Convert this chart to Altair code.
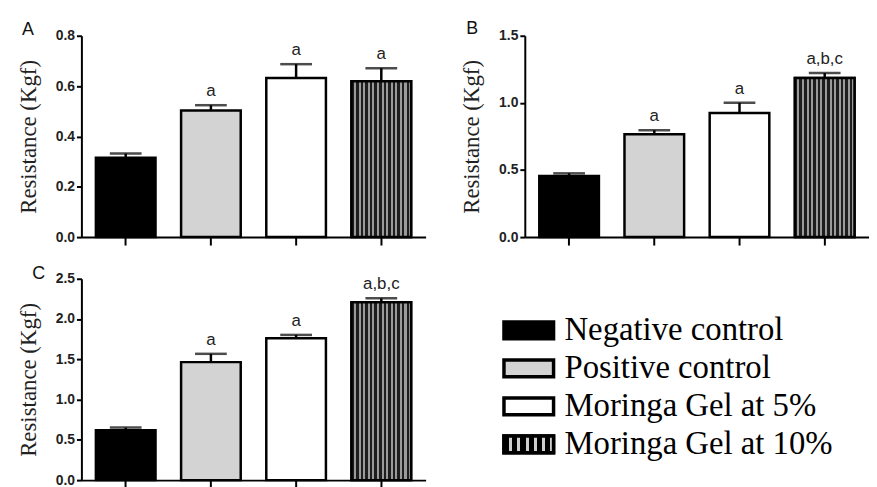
import altair as alt
import pandas as pd

groups = ["Negative control", "Positive control", "Moringa Gel at 5%", "Moringa Gel at 10%"]
fills = ["#000000", "#d3d3d3", "#ffffff", "#333333"]

a_mean = [0.315, 0.503, 0.632, 0.619]
a_err = [0.017, 0.021, 0.055, 0.052]
a_sig = ["", "a", "a", "a"]

b_mean = [0.456, 0.766, 0.924, 1.185]
b_err = [0.019, 0.030, 0.076, 0.037]
b_sig = ["", "a", "a", "a,b,c"]

c_mean = [0.619, 1.465, 1.762, 2.208]
c_err = [0.033, 0.103, 0.041, 0.049]
c_sig = ["", "a", "a", "a,b,c"]

a_ticks = [0.0, 0.2, 0.4, 0.6, 0.8]
b_ticks = [0.0, 0.5, 1.0, 1.5]
c_ticks = [0.0, 0.5, 1.0, 1.5, 2.0, 2.5]


def stripes(n, dark, light, frac):
    stops = []
    for i in range(n):
        a = i / n
        b = (i + frac) / n
        c = (i + 1) / n
        stops += [
            {"color": dark, "offset": a},
            {"color": dark, "offset": b},
            {"color": light, "offset": b},
            {"color": light, "offset": c},
        ]
    return {"gradient": "linear", "x1": 0, "x2": 1, "y1": 0, "y2": 0, "stops": stops}


bar_hatch = stripes(13, "#1e1e1e", "#9a9a9a", 0.55)
leg_hatch = stripes(6, "#000000", "#cfcfcf", 0.62)

W, H = 347, 203


def panel(mean, err, sig, letter, ymax, ticks, lx, ly):
    df = pd.DataFrame({"group": groups, "mean": mean, "err": err, "sig": sig})
    base = alt.Chart(df).transform_calculate(top="datum.mean + datum.err")
    x = alt.X(
        "group:N",
        sort=groups,
        scale=alt.Scale(paddingInner=0.3, paddingOuter=0.17),
        axis=alt.Axis(labels=False, title=None, tickSize=8, tickWidth=2,
                      domainWidth=2, domainColor="black", tickColor="black", grid=False),
    )
    yaxis = alt.Axis(values=ticks, format=".1f", title="Resistance (Kgf)",
                     titleFont="Liberation Serif", titleFontSize=23, titleFontWeight="normal",
                     titleColor="#222", titlePadding=15,
                     labelFont="Liberation Sans", labelFontSize=14, labelFontWeight="bold",
                     labelColor="#222", labelPadding=2, tickSize=5, tickWidth=2,
                     tickColor="black", domainWidth=2, domainColor="black", grid=False)
    yscale = alt.Scale(domain=[0, ymax], nice=False)

    def Y(f):
        return alt.Y(f, scale=yscale, axis=yaxis, title="Resistance (Kgf)")

    bars = base.mark_bar(stroke="black", strokeWidth=2.5).encode(
        x=x, y=Y("mean:Q"),
        fill=alt.Fill("group:N", scale=alt.Scale(domain=groups, range=fills), legend=None),
    )
    hatch = base.transform_filter(alt.datum.group == groups[3]).mark_bar(
        fill=bar_hatch, stroke="black", strokeWidth=2.5
    ).encode(x=x, y=Y("mean:Q"))
    rule = base.mark_rule(color="black", strokeWidth=2.5).encode(x=x, y=Y("mean:Q"), y2="top:Q")
    cap = base.mark_tick(color="black", size=32, thickness=2.5).encode(x=x, y=Y("top:Q"))
    txt = base.mark_text(baseline="alphabetic", dy=-9, font="Liberation Sans",
                         fontSize=17, color="#222").encode(x=x, y=Y("top:Q"), text="sig:N")
    lab = alt.Chart(pd.DataFrame({"t": [letter]})).mark_text(
        font="Liberation Sans", fontSize=18, color="#111", baseline="middle", align="center"
    ).encode(x=alt.value(lx), y=alt.value(ly), text="t:N")
    return alt.layer(bars, hatch, rule, cap, txt, lab).properties(width=W, height=H)


pa = panel(a_mean, a_err, a_sig, "A", 0.8, a_ticks, -54, -6)
pb = panel(b_mean, b_err, b_sig, "B", 1.5, b_ticks, -53, -7)
pc = panel(c_mean, c_err, c_sig, "C", 2.5, c_ticks, -43, -5)

leg_df = pd.DataFrame({"group": groups})
lbase = alt.Chart(leg_df)
ly = alt.Y("group:N", sort=groups, scale=alt.Scale(type="point", range=[52, 167], padding=0),
           axis=None)
shape = "M-1,-0.34H1V0.34H-1Z"
sym = lbase.mark_point(shape=shape, size=2500, filled=True, stroke="black",
                       strokeWidth=3.5, opacity=1).encode(
    y=ly, x=alt.value(4),
    fill=alt.Fill("group:N", scale=alt.Scale(domain=groups, range=fills), legend=None),
)
sym_h = lbase.transform_filter(alt.datum.group == groups[3]).mark_point(
    shape=shape, size=2500, filled=True, fill=leg_hatch, stroke="black",
    strokeWidth=3.5, opacity=1).encode(y=ly, x=alt.value(4))
ltxt = lbase.mark_text(align="left", baseline="middle", font="Liberation Serif",
                       fontSize=33, color="black").encode(y=ly, x=alt.value(40), text="group:N")
legend = alt.layer(sym, sym_h, ltxt).properties(width=W, height=H)

chart = alt.concat(
    pa, pb, pc, legend, columns=2,
    spacing={"row": 42, "column": 100}, bounds="flush",
).properties(
    padding={"left": 9, "top": 10, "right": 0, "bottom": 0}
).configure_view(stroke=None)

chart.save("out.html", embed_options={"renderer": "svg", "actions": False})
